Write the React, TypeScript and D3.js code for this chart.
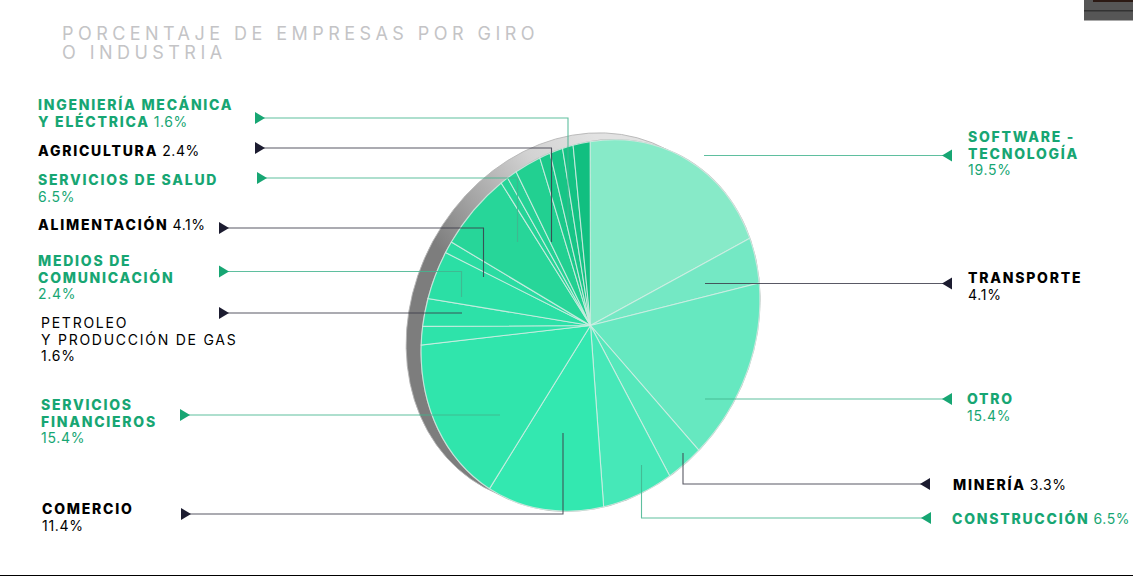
import { arc as Arc, pie as Pie, PieArcDatum, select } from "d3";
import React, { useLayoutEffect, useRef } from "react";

// percentages clockwise from the Software wedge, the labelled ones,
// the thin unlabelled wedges
const sliceValues = [
  19.5, 4.1, 15.4, 3.3, 6.5, 11.4, 15.4, 1.6, 2.4, 4.1, 1, 6.5, 0.7, 0.9, 2.4, 1, 1.2, 1, 1.6,
];
const sliceColors = [
  "#87eac8", "#74e8c4", "#66e8c0", "#55e8bb", "#46e8b8", "#33e8b0", "#30e5ac", "#2ee3aa", "#2de1a8",
  "#2bdfa5", "#2adca2", "#27d699", "#25d497", "#24d295", "#22d091", "#1bc98a", "#17c586", "#14c283", "#11bf80",
];

const titleLines = ["PORCENTAJE DE EMPRESAS POR GIRO", "O INDUSTRIA"];

const softwareLabel = ["SOFTWARE -", "TECNOLOGÍA"];
const transporteLabel = ["TRANSPORTE"];
const otroLabel = ["OTRO"];
const mineriaLabel = ["MINERÍA"];
const construccionLabel = ["CONSTRUCCIÓN"];
const comercioLabel = ["COMERCIO"];
const financierosLabel = ["SERVICIOS", "FINANCIEROS"];
const petroleoLabel = ["PETROLEO", "Y PRODUCCIÓN DE GAS"];
const mediosLabel = ["MEDIOS DE", "COMUNICACIÓN"];
const alimentacionLabel = ["ALIMENTACIÓN"];
const saludLabel = ["SERVICIOS DE SALUD"];
const agriculturaLabel = ["AGRICULTURA"];
const ingenieriaLabel = ["INGENIERÍA MECÁNICA", "Y ELÉCTRICA"];

const GREEN = "#17a673";
const DARK = "#000000";
const LINE_GREEN = "#43b48e";
const LINE_DARK = "#3c3c4a";
const ARROW_DARK = "#1c1c30";

interface ICallout {
  lines: string[];
  value: string;
  inline?: boolean; // value sits on the last line of the name
  light?: boolean; // name is not bold
  color: string;
  x: number;
  y: number;
  arrow: [number, number];
  dir: 1 | -1;
  path: [number, number][];
}

const callouts: ICallout[] = [
  { lines: ingenieriaLabel, value: "1.6%", inline: true, color: GREEN, x: 38, y: 110, arrow: [255, 118], dir: 1, path: [[568, 118], [568, 225]] },
  { lines: agriculturaLabel, value: "2.4%", inline: true, color: DARK, x: 38, y: 156, arrow: [255, 148], dir: 1, path: [[551.5, 148], [551.5, 242]] },
  { lines: saludLabel, value: "6.5%", color: GREEN, x: 38, y: 185, arrow: [257, 178], dir: 1, path: [[517.5, 178], [517.5, 242]] },
  { lines: alimentacionLabel, value: "4.1%", inline: true, color: DARK, x: 38, y: 230, arrow: [219, 228], dir: 1, path: [[483.5, 228], [483.5, 277]] },
  { lines: mediosLabel, value: "2.4%", color: GREEN, x: 38, y: 266, arrow: [219, 271.5], dir: 1, path: [[461.5, 271.5], [461.5, 297]] },
  { lines: petroleoLabel, value: "1.6%", light: true, color: DARK, x: 41, y: 328, arrow: [219, 313], dir: 1, path: [[462, 313]] },
  { lines: financierosLabel, value: "15.4%", color: GREEN, x: 41, y: 410, arrow: [180, 415], dir: 1, path: [[500, 415]] },
  { lines: comercioLabel, value: "11.4%", color: DARK, x: 42, y: 514, arrow: [181, 514], dir: 1, path: [[563, 514], [563, 433]] },
  { lines: softwareLabel, value: "19.5%", color: GREEN, x: 968, y: 142, arrow: [952, 155.5], dir: -1, path: [[704, 155.5]] },
  { lines: transporteLabel, value: "4.1%", color: DARK, x: 968, y: 283, arrow: [952, 283.5], dir: -1, path: [[705, 283.5]] },
  { lines: otroLabel, value: "15.4%", color: GREEN, x: 967, y: 404, arrow: [952, 399], dir: -1, path: [[705, 399]] },
  { lines: mineriaLabel, value: "3.3%", inline: true, color: DARK, x: 953, y: 490, arrow: [930, 484], dir: -1, path: [[683, 484], [683, 453]] },
  { lines: construccionLabel, value: "6.5%", inline: true, color: GREEN, x: 952, y: 524, arrow: [931, 518], dir: -1, path: [[641.5, 518], [641.5, 465]] },
];

const WIDTH = 1133;
const HEIGHT = 576;
const CX = 590.5;
const CY = 325.5;
// the disc is a tilted ellipse, long axis running from upper right to lower left
const TILT = 28.4;
const R_SHORT = 162.2;
const R_LONG = 192;
const START_ANGLE = (-32.75 * Math.PI) / 180;
const RIM_DX = -15;
const RIM_DY = -7;
const FONT = "Inter, 'Noto Sans', sans-serif";

const App: React.FC = () => {
  const ref = useRef<SVGSVGElement>(null);

  useLayoutEffect(() => {
    const svg = select(ref.current);
    const disc = `rotate(${TILT}) scale(${R_SHORT / R_LONG}, 1)`;
    const rimTransform = `translate(${CX + RIM_DX}, ${CY + RIM_DY}) rotate(${TILT})`;

    // gradient runs in page space, so undo the ellipse's own transform
    const defs = svg.append("defs");
    const grad = defs
      .append("linearGradient")
      .attr("id", "rim")
      .attr("gradientUnits", "userSpaceOnUse")
      .attr("gradientTransform", `rotate(${-TILT}) translate(${-(CX + RIM_DX)}, ${-(CY + RIM_DY)})`)
      .attr("x1", 420)
      .attr("y1", 260)
      .attr("x2", 590)
      .attr("y2", 130);
    grad.append("stop").attr("offset", "0.1").attr("stop-color", "#7d7d7d");
    grad.append("stop").attr("offset", "0.35").attr("stop-color", "#a2a2a2");
    grad.append("stop").attr("offset", "0.7").attr("stop-color", "#d2d2d2");
    grad.append("stop").attr("offset", "1").attr("stop-color", "#e2e2e2");

    // corner of the screenshot behind the chart
    svg.append("rect").attr("x", 1084).attr("y", 0).attr("width", 49).attr("height", 20.5).attr("fill", "#565656");
    svg.append("rect").attr("x", 1093).attr("y", 0).attr("width", 40).attr("height", 2).attr("fill", "#2c1a14");
    svg.append("rect").attr("x", 1084).attr("y", 10).attr("width", 49).attr("height", 1.5).attr("fill", "#333333");
    svg.append("rect").attr("x", 0).attr("y", 575).attr("width", WIDTH).attr("height", 1).attr("fill", "#000000");

    svg
      .append("g")
      .selectAll("text")
      .data(titleLines)
      .enter()
      .append("text")
      .attr("x", 62)
      .attr("y", (_, i) => 40 + i * 18.5)
      .attr("fill", "#c4c4c6")
      .attr("font-family", FONT)
      .attr("font-size", 18)
      .attr("letter-spacing", 4.45)
      .text((d) => d);

    // rim of the disc, same ellipse pushed up and to the left
    svg
      .append("ellipse")
      .attr("transform", rimTransform)
      .attr("rx", R_SHORT)
      .attr("ry", R_LONG)
      .attr("fill", "url(#rim)")
      .attr("stroke", "#b5b5b5")
      .attr("stroke-width", 0.8);

    svg
      .append("ellipse")
      .attr("transform", `translate(${CX}, ${CY}) rotate(${TILT})`)
      .attr("rx", R_SHORT + 0.7)
      .attr("ry", R_LONG + 0.7)
      .attr("fill", "#b4b4b4");

    const pie = Pie<number>()
      .value((d) => d)
      .sort(null)
      .startAngle(START_ANGLE)
      .endAngle(START_ANGLE + 2 * Math.PI);

    const arc = Arc<PieArcDatum<number>>().innerRadius(0).outerRadius(R_LONG);

    svg
      .append("g")
      .attr("transform", `translate(${CX}, ${CY}) ${disc}`)
      .selectAll("path")
      .data(pie(sliceValues))
      .enter()
      .append("path")
      .attr("d", arc)
      .attr("fill", (_, i) => sliceColors[i])
      .attr("stroke", "#d6efe6")
      .attr("stroke-opacity", 0.8)
      .attr("stroke-width", 1.1)
      .attr("vector-effect", "non-scaling-stroke");

    callouts.forEach((c) => {
      const pts = [c.arrow, ...c.path];
      svg
        .append("path")
        .attr("d", "M" + pts.map((p) => p.join(",")).join("L"))
        .attr("fill", "none")
        .attr("stroke", c.color === GREEN ? LINE_GREEN : LINE_DARK)
        .attr("stroke-width", 1.1)
        .attr("stroke-opacity", 0.85);

      const [ax, ay] = c.arrow;
      svg
        .append("path")
        .attr("d", `M${ax},${ay - 6}L${ax + c.dir * 10},${ay}L${ax},${ay + 6}Z`)
        .attr("fill", c.color === GREEN ? GREEN : ARROW_DARK);

      const text = svg
        .append("g")
        .attr("font-family", FONT)
        .attr("font-size", 14)
        .attr("letter-spacing", 1.75)
        .attr("fill", c.color);

      c.lines.forEach((line, i) => {
        const t = text
          .append("text")
          .attr("x", c.x)
          .attr("y", c.y + i * 16.7);
        t.append("tspan")
          .attr("font-weight", c.light ? 400 : 800)
          .text(line);
        if (c.inline && i === c.lines.length - 1) {
          t.append("tspan")
            .attr("font-weight", 400)
            .attr("letter-spacing", 0.6)
            .attr("dx", 4)
            .text(c.value);
        }
      });
      if (!c.inline) {
        text
          .append("text")
          .attr("x", c.x)
          .attr("y", c.y + c.lines.length * 16.7)
          .attr("letter-spacing", 0.7)
          .text(c.value);
      }
    });

    return () => {
      svg.selectAll("*").remove();
    };
  }, []);

  return (
    <svg
      ref={ref}
      width={WIDTH}
      height={HEIGHT}
      style={{ position: "absolute", left: 0, top: 0, background: "#ffffff" }}
    />
  );
};

export default App;
